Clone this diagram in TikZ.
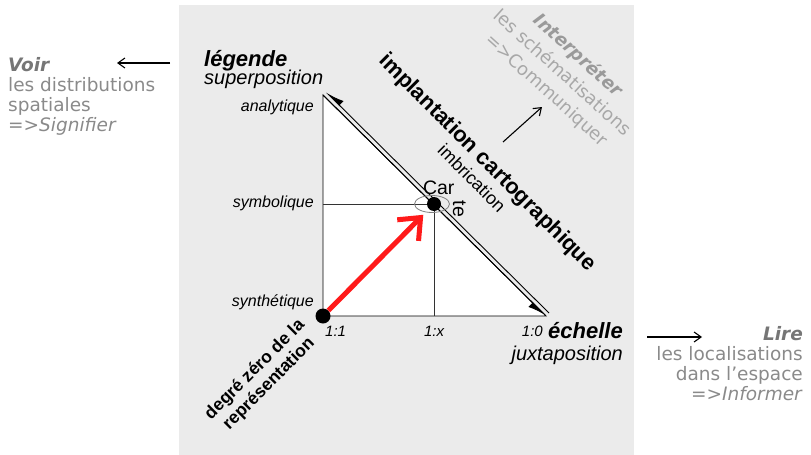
\documentclass[tikz,border=0pt]{standalone}
\usepackage{fontspec}
\usepackage{tikz}
\usetikzlibrary{arrows.meta,decorations.text}
\newfontfamily\helv{Liberation Sans}
\newfontfamily\verd{DejaVu Sans}
\definecolor{panel}{HTML}{EBEBEB}
\definecolor{readgray}{HTML}{8A8A8A}
\definecolor{readdark}{HTML}{767676}
\definecolor{faintgray}{HTML}{A8A8A8}
\definecolor{faintdark}{HTML}{9A9A9A}
\definecolor{pathred}{HTML}{FF1A1A}
\tikzset{
  axistitle/.style={font=\helv\bfseries\itshape\fontsize{22}{24}\selectfont,inner sep=0},
  axissub/.style={font=\helv\itshape\fontsize{20}{22}\selectfont,inner sep=0},
  level/.style={font=\helv\itshape\fontsize{16}{18}\selectfont,inner sep=0},
  ratio/.style={font=\helv\itshape\fontsize{15}{17}\selectfont,inner sep=0},
  diagtitle/.style={font=\helv\bfseries\fontsize{22}{24}\selectfont,inner sep=0},
  readblock/.style={font=\verd\fontsize{18.5}{20}\selectfont,text=readgray,inner sep=0},
  dot/.style={circle,fill=black,inner sep=0,minimum size=15pt},
  arrow/.style={-{Straight Barb[length=7pt,width=10pt]},line width=1.1pt},
  guide/.style={draw=black!80,line width=0.8pt},
  harp/.style={line width=0.9pt,-{Latex[harpoon,swap,length=17pt,width=12pt]}},
  redarrow/.style={pathred,line width=5pt,-{Straight Barb[length=18pt,width=30pt]}}
}
\begin{document}
\begin{tikzpicture}[x=1pt,y=-1pt]
  \useasboundingbox (0,0) rectangle (811,455);
  \fill[panel] (179,5) rectangle (634,455);

  \coordinate (apex) at (323,95);
  \coordinate (origin) at (323,316);
  \coordinate (far) at (546,316);
  \coordinate (apexout) at (326,92);
  \coordinate (farout) at (549,313);
  \coordinate (cpt) at (434,204);

  \filldraw[fill=white,line width=0.9pt] (apex) -- (origin) -- (far) -- cycle;
  \draw[guide] (apex |- cpt) -- (cpt) -- (cpt |- origin);
  \draw[harp] (apex) -- (far);
  \draw[harp] (farout) -- (apexout);
  \draw[gray,line width=0.8pt] ([xshift=-2pt]cpt) ellipse [x radius=17.5pt,y radius=8.5pt];
  \node[dot] (zero) at (origin) {};
  \node[dot,minimum size=14pt] (carte) at (cpt) {};
  \draw[redarrow,shorten >=8pt] (zero) -- (carte);
  \path[decorate,decoration={text along path,text={|\helv\fontsize{19.5}{19.5}\selectfont|Car te}}]
    (423,194) -- (453,194) -- (453,250);

  \node[axistitle,anchor=base west] (legende) at (204,66) {légende};
  \node[axissub,anchor=base west] (superpos) at (204,84) {superposition};
  \node[level,anchor=base east] (analytique) at (314,111) {analytique};
  \node[level,anchor=base east] (symbolique) at (314,207) {symbolique};
  \node[level,anchor=base east] (synthetique) at (314,306) {synthétique};
  \node[ratio,anchor=base west] (unun) at (325,336) {1:1};
  \node[ratio,anchor=base] (unx) at (434,336) {1:x};
  \node[ratio,anchor=base east] (unzero) at (543,336) {1:0};
  \node[axistitle,anchor=base east] (echelle) at (623,338) {échelle};
  \node[axissub,anchor=base east] (juxta) at (623,360) {juxtaposition};
  \node[diagtitle,rotate=-45] (implant) at (487,163) {implantation cartographique};
  \node[font=\helv\fontsize{18}{20}\selectfont,inner sep=0,rotate=-45] (imbric) at (472,178) {imbrication};
  \node[font=\helv\bfseries\fontsize{17.5}{20}\selectfont,align=center,inner sep=0,rotate=45] (zerodeg) at (262,377) {degré zéro de la\\représentation};

  \node[readblock,align=left,anchor=north west] (voir) at (8,57) {\textcolor{readdark}{\bfseries\itshape Voir}\\les distributions\\spatiales\\=>\textit{Signifier}};
  \node[readblock,align=right,anchor=north east] (lire) at (803,326) {\textcolor{readdark}{\bfseries\itshape Lire}\\les localisations\\dans l’espace\\=>\textit{Informer}};
  \node[readblock,text=faintgray,font=\verd\fontsize{18}{23.4}\selectfont,align=center,rotate=-42] (interp) at (562,73) {\textcolor{faintdark}{\bfseries\itshape Interpréter}\\les schématisations\\=>Communiquer};

  \coordinate (voirtail) at (170,63);
  \coordinate (voirtip) at (117,63);
  \coordinate (liretail) at (647,337);
  \coordinate (liretip) at (702,337);
  \coordinate (interptail) at (503,142);
  \coordinate (interptip) at (542,107);
  \draw[arrow] (voirtail) -- (voirtip);
  \draw[arrow] (liretail) -- (liretip);
  \draw[arrow] (interptail) -- (interptip);
\end{tikzpicture}
\end{document}
